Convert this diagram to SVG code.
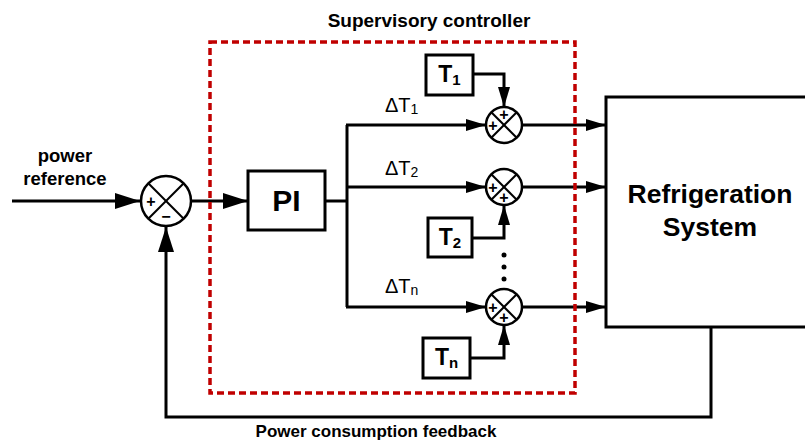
<svg xmlns="http://www.w3.org/2000/svg" width="805" height="441" viewBox="0 0 805 441">
<style>
.ln{fill:none;stroke:#000;stroke-width:3}
.bx{fill:#fff;stroke:#000;stroke-width:3}
.sum{fill:#fff;stroke:#000;stroke-width:2.5}
.x{stroke:#000;stroke-width:2}
.t{font-family:"Liberation Sans",Arial,sans-serif;fill:#000}
.b{font-weight:bold}
.sg{font-family:"Liberation Sans",Arial,sans-serif;font-weight:bold;font-size:16px;text-anchor:middle;dominant-baseline:central}
.dash{fill:none;stroke:#c00000;stroke-width:3.5;stroke-dasharray:7 4}
</style>
<defs>
<marker id="ab" viewBox="0 0 25 16" refX="25" refY="8" markerWidth="25" markerHeight="16" markerUnits="userSpaceOnUse" orient="auto"><path d="M0,0 L25,8 L0,16 z" fill="#000"/></marker>
<marker id="as" viewBox="0 0 20 12" refX="20" refY="6" markerWidth="20" markerHeight="12" markerUnits="userSpaceOnUse" orient="auto"><path d="M0,0 L20,6 L0,12 z" fill="#000"/></marker>
</defs>
<rect width="805" height="441" fill="#fff"/>

<text class="t b" x="429" y="27" font-size="19" text-anchor="middle">Supervisory controller</text>

<g id="connectors">
<line class="ln" x1="12" y1="201" x2="140" y2="201" marker-end="url(#ab)"/>
<line class="ln" x1="192" y1="201" x2="248" y2="201" marker-end="url(#ab)"/>
<polyline class="ln" points="325,201 347,201"/>
<line class="ln" x1="347" y1="125" x2="347" y2="307"/>
<line class="ln" x1="346" y1="125" x2="486" y2="125" marker-end="url(#as)"/>
<line class="ln" x1="346" y1="187" x2="486" y2="187" marker-end="url(#as)"/>
<line class="ln" x1="346" y1="307" x2="486" y2="307" marker-end="url(#as)"/>
<polyline class="ln" points="473,74 504,74 504,107" marker-end="url(#as)"/>
<polyline class="ln" points="472,238 504,238 504,205" marker-end="url(#as)"/>
<polyline class="ln" points="470,358 504,358 504,325" marker-end="url(#as)"/>
<line class="ln" x1="522" y1="125" x2="606" y2="125" marker-end="url(#as)"/>
<line class="ln" x1="522" y1="187" x2="606" y2="187" marker-end="url(#as)"/>
<line class="ln" x1="522" y1="307" x2="606" y2="307" marker-end="url(#as)"/>
<polyline class="ln" points="711,327 711,417 166,417 166,227" marker-end="url(#ab)"/>
</g>

<g id="sum_main">
<circle class="sum" cx="166" cy="201" r="25"/>
<line class="x" x1="148.3" y1="183.3" x2="183.7" y2="218.7"/>
<line class="x" x1="183.7" y1="183.3" x2="148.3" y2="218.7"/>
<text class="sg" x="151" y="201" font-size="19">+</text>
<text class="sg" x="166" y="216" font-size="19">−</text>
</g>

<g id="power_reference">
<text class="t b" x="65" y="162" font-size="18.5" text-anchor="middle">power</text>
<text class="t b" x="65" y="185" font-size="18.5" text-anchor="middle">reference</text>
</g>

<g id="pi">
<rect class="bx" x="248" y="171" width="77" height="59"/>
<text class="t b" x="286.5" y="211" font-size="30" text-anchor="middle">PI</text>
</g>

<g id="sum1">
<circle class="sum" cx="504" cy="125" r="18"/>
<line class="x" x1="491.3" y1="112.3" x2="516.7" y2="137.7"/>
<line class="x" x1="516.7" y1="112.3" x2="491.3" y2="137.7"/>
<text class="sg" x="493" y="125">+</text>
<text class="sg" x="504" y="114">+</text>
</g>
<g id="sum2">
<circle class="sum" cx="504" cy="187" r="18"/>
<line class="x" x1="491.3" y1="174.3" x2="516.7" y2="199.7"/>
<line class="x" x1="516.7" y1="174.3" x2="491.3" y2="199.7"/>
<text class="sg" x="493" y="187">+</text>
<text class="sg" x="504" y="197">+</text>
</g>
<g id="sumn">
<circle class="sum" cx="504" cy="307" r="18"/>
<line class="x" x1="491.3" y1="294.3" x2="516.7" y2="319.7"/>
<line class="x" x1="516.7" y1="294.3" x2="491.3" y2="319.7"/>
<text class="sg" x="493" y="307">+</text>
<text class="sg" x="504" y="317">+</text>
</g>

<g id="dots">
<circle cx="504" cy="255" r="2.5" fill="#000"/>
<circle cx="504" cy="267" r="2.5" fill="#000"/>
<circle cx="504" cy="279" r="2.5" fill="#000"/>
</g>

<g id="t1">
<rect class="bx" x="426" y="55" width="47" height="40"/>
<text class="t b" x="449.5" y="82" font-size="23" text-anchor="middle">T<tspan font-size="15" dy="3">1</tspan></text>
</g>
<g id="t2">
<rect class="bx" x="428" y="218" width="44" height="39"/>
<text class="t b" x="450" y="245" font-size="23" text-anchor="middle">T<tspan font-size="15" dy="3">2</tspan></text>
</g>
<g id="tn">
<rect class="bx" x="423" y="338" width="47" height="40"/>
<text class="t b" x="446.5" y="365" font-size="23" text-anchor="middle">T<tspan font-size="15" dy="3">n</tspan></text>
</g>

<g id="labels">
<text class="t" x="385" y="112" font-size="20">ΔT<tspan font-size="14" dy="2">1</tspan></text>
<text class="t" x="385" y="175" font-size="20">ΔT<tspan font-size="14" dy="2">2</tspan></text>
<text class="t" x="385" y="293" font-size="20">ΔT<tspan font-size="14" dy="2">n</tspan></text>
</g>

<g id="refrigeration">
<rect class="bx" x="606" y="97" width="210" height="230"/>
<text class="t b" x="710" y="203" font-size="26.5" text-anchor="middle">Refrigeration</text>
<text class="t b" x="710" y="236" font-size="26.5" text-anchor="middle">System</text>
</g>

<g id="supervisory">
<rect class="dash" x="210" y="42" width="365" height="351"/>
</g>

<text class="t b" x="376" y="437" font-size="17" text-anchor="middle">Power consumption feedback</text>
</svg>
